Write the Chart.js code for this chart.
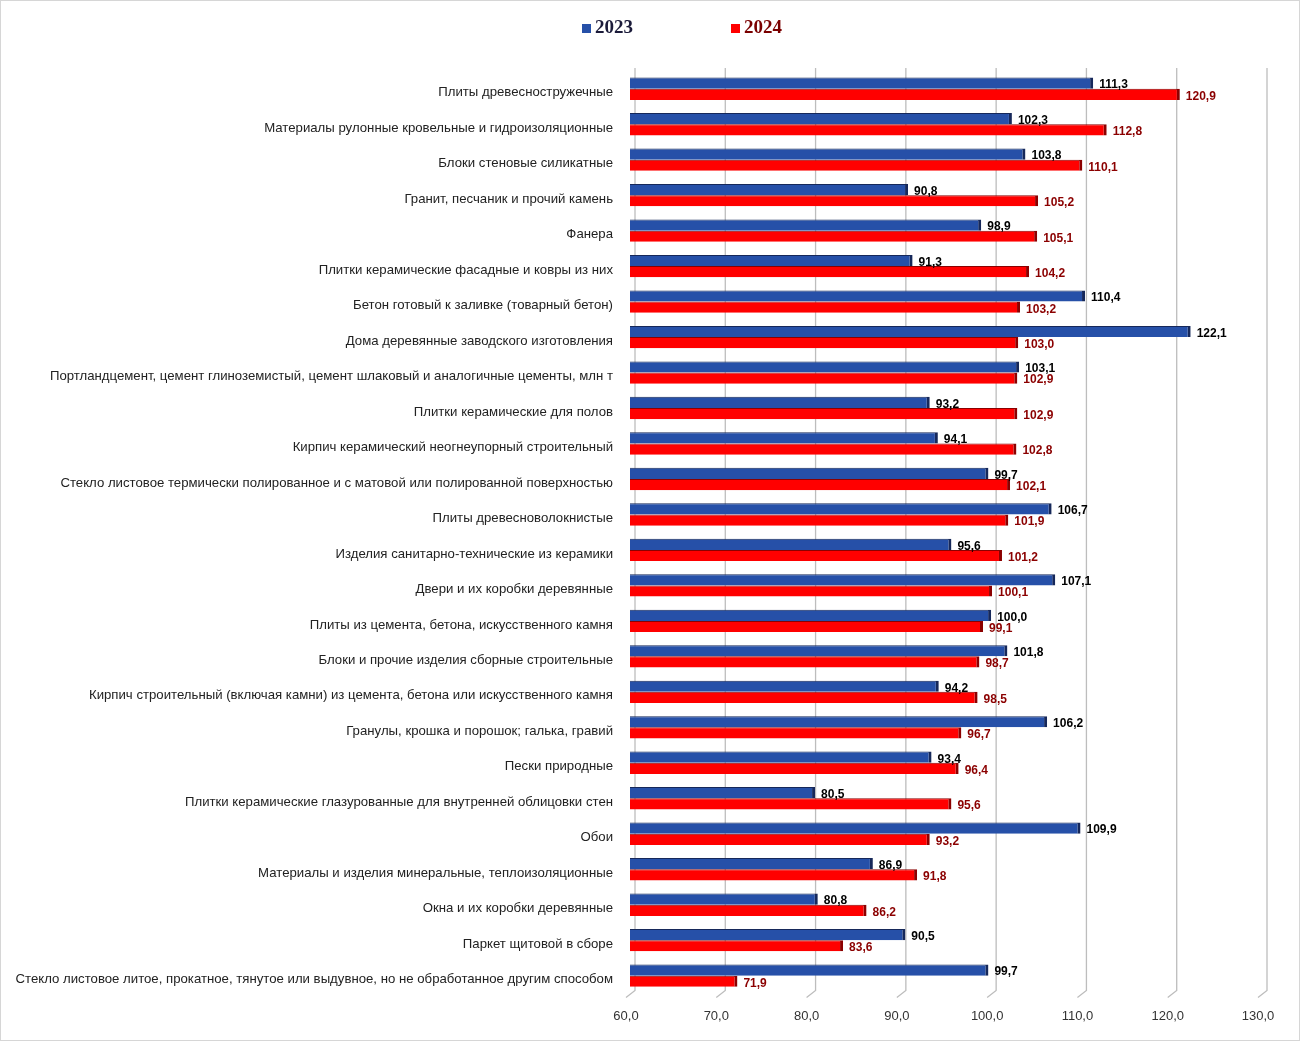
<!DOCTYPE html>
<html>
<head>
<meta charset="utf-8">
<script src="https://cdn.jsdelivr.net/npm/chart.js@4"></script>
<style>
  body { margin: 0; background: #fff; }
  #wrap { position: relative; width: 1298px; height: 1039px; border: 1px solid #d6d6d6; }
  .leg { position: absolute; top: 15px; font: bold 19px "Liberation Serif", "DejaVu Serif", serif; }
  .leg span { display: inline-block; width: 9px; height: 9px; margin-right: 4px; }
</style>
</head>
<body>
<div id="wrap">
  <div class="leg" style="left:581px;color:#1b1b3a"><span style="background:#2650a8"></span>2023</div>
  <div class="leg" style="left:730px;color:#7a0000"><span style="background:#ff0000"></span>2024</div>
  <canvas id="myChart"></canvas>
</div>
<script>
// data
var categories = [
    "Плиты древесностружечные",
    "Материалы рулонные кровельные и гидроизоляционные",
    "Блоки стеновые силикатные",
    "Гранит, песчаник и прочий камень",
    "Фанера",
    "Плитки керамические фасадные и ковры из них",
    "Бетон готовый к заливке (товарный бетон)",
    "Дома деревянные заводского изготовления",
    "Портландцемент, цемент глиноземистый, цемент шлаковый и аналогичные цементы, млн т",
    "Плитки керамические для полов",
    "Кирпич керамический неогнеупорный строительный",
    "Стекло листовое термически полированное и с матовой или полированной поверхностью",
    "Плиты древесноволокнистые",
    "Изделия санитарно-технические из керамики",
    "Двери и их коробки деревянные",
    "Плиты из цемента, бетона, искусственного камня",
    "Блоки и прочие изделия сборные строительные",
    "Кирпич строительный (включая камни) из цемента, бетона или искусственного камня",
    "Гранулы, крошка и порошок; галька, гравий",
    "Пески природные",
    "Плитки керамические глазурованные для внутренней облицовки стен",
    "Обои",
    "Материалы и изделия минеральные, теплоизоляционные",
    "Окна и их коробки деревянные",
    "Паркет щитовой в сборе",
    "Стекло листовое литое, прокатное, тянутое или выдувное, но не обработанное другим способом"
];
var values2023 = [111.3, 102.3, 103.8, 90.8, 98.9, 91.3, 110.4, 122.1, 103.1, 93.2, 94.1, 99.7, 106.7,
    95.6, 107.1, 100.0, 101.8, 94.2, 106.2, 93.4, 80.5, 109.9, 86.9, 80.8, 90.5, 99.7];
var values2024 = [120.9, 112.8, 110.1, 105.2, 105.1, 104.2, 103.2, 103.0, 102.9, 102.9, 102.8, 102.1, 101.9,
    101.2, 100.1, 99.1, 98.7, 98.5, 96.7, 96.4, 95.6, 93.2, 91.8, 86.2, 83.6, 71.9];
var xMin = 60, xMax = 130, xStep = 10;

function fmt(v) {
    return v.toFixed(1).replace(".", ",");
}

// value labels at the end of each bar
var barLabels = {
    id: "barLabels",
    afterDatasetsDraw: function(chart) {
        var ctx = chart.ctx;
        ctx.save();
        ctx.font = "bold 12px 'Liberation Sans Narrow', 'Liberation Sans', sans-serif";
        ctx.textBaseline = "middle";
        ctx.textAlign = "left";
        chart.data.datasets.forEach(function(ds, i) {
            var meta = chart.getDatasetMeta(i);
            ctx.fillStyle = ds.labelColor;
            meta.data.forEach(function(bar, j) {
                ctx.fillText(fmt(ds.data[j]), bar.x + 6, bar.y + 2);
            });
        });
        ctx.restore();
    }
};

// gridlines drawn like a 3D back wall with a short slanted foot
var backWall = {
    id: "backWall",
    beforeDatasetsDraw: function(chart) {
        var ctx = chart.ctx;
        var area = chart.chartArea;
        var xs = chart.scales.x;
        ctx.save();
        ctx.strokeStyle = "#bdbdbd";
        ctx.lineWidth = 1.3;
        xs.ticks.forEach(function(t) {
            var x = xs.getPixelForValue(t.value);
            ctx.beginPath();
            ctx.moveTo(x + 5, area.top - 3);
            ctx.lineTo(x + 5, area.bottom - 3);
            ctx.lineTo(x - 4, area.bottom + 4);
            ctx.stroke();
        });
        ctx.restore();
    }
};

const ctx = document.getElementById("myChart").getContext("2d");
const myChart = new Chart(ctx, {
    type: "bar",
    data: {
        labels: categories,
        datasets: [{
            label: "2023",
            data: values2023,
            backgroundColor: "#2650a8",
            borderColor: "#16285a",
            borderWidth: {top: 1, right: 3, bottom: 0, left: 0},
            borderSkipped: false,
            labelColor: "#000000",
            barPercentage: 1.0,
            categoryPercentage: 0.63
        }, {
            label: "2024",
            data: values2024,
            backgroundColor: "#ff0000",
            borderColor: "#8b0000",
            borderWidth: {top: 1, right: 3, bottom: 0, left: 0},
            borderSkipped: false,
            labelColor: "#8b0000",
            barPercentage: 1.0,
            categoryPercentage: 0.63
        }]
    },
    options: {
        indexAxis: "y",
        responsive: true,
        maintainAspectRatio: false,
        animation: false,
        layout: {padding: {top: 70, right: 37, bottom: 9, left: 0}},
        plugins: {
            legend: {display: false},
            tooltip: {enabled: false}
        },
        scales: {
            x: {
                min: xMin,
                max: xMax,
                ticks: {
                    stepSize: xStep,
                    color: "#333",
                    padding: 7,
                    labelOffset: -4,
                    font: {family: "'Liberation Sans', sans-serif", size: 13},
                    callback: function(v) { return fmt(v); }
                },
                grid: {display: false},
                border: {display: false}
            },
            y: {
                afterFit: function(s) { s.width = 629; },
                ticks: {
                    color: "#222",
                    padding: 9,
                    labelOffset: 4,
                    font: {family: "'Liberation Sans', sans-serif", size: 13.2}
                },
                grid: {display: false},
                border: {display: false}
            }
        }
    },
    plugins: [backWall, barLabels]
});
</script>
</body>
</html>
